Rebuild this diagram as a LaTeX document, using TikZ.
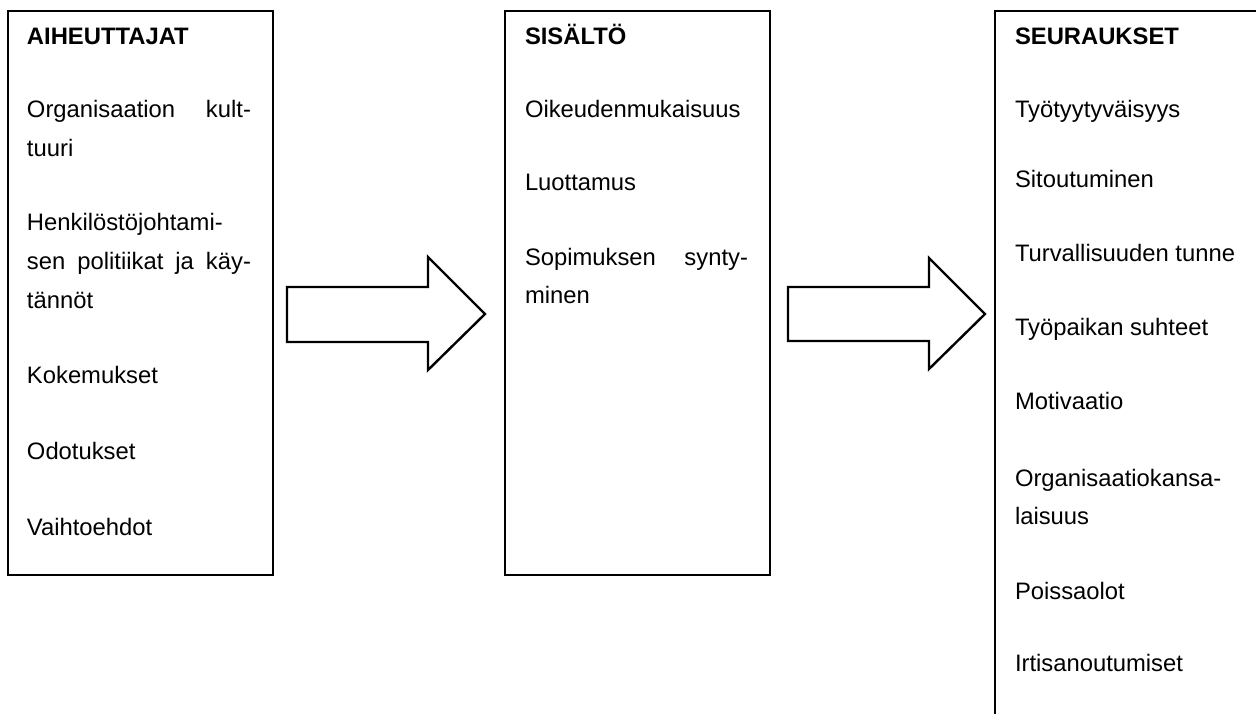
\documentclass[tikz,border=0pt]{standalone}
\usepackage{fontspec}
\setmainfont{Liberation Sans}
\begin{document}
\begin{tikzpicture}[x=1pt,y=-1pt,
  panel/.style={draw=black,line width=2.4pt,fill=none,inner sep=0pt,anchor=north west},
  txt/.style={anchor=base west,inner sep=0pt,outer sep=0pt,font=\fontsize{23.8}{28}\selectfont},
  ttl/.style={txt,font=\fontsize{23.8}{28}\selectfont\bfseries},
  blockarrow/.style={draw=black,line width=2.4pt,fill=white,line join=miter}]
\useasboundingbox (0,0) rectangle (1256,713);
\clip (0,0) rectangle (1256,713);
\fill[white] (0,0) rectangle (1256,713);
% boxes
\node[panel,minimum width=265pt,minimum height=564pt] (b1) at (7,10) {};
\node[panel,minimum width=265pt,minimum height=564pt] (b2) at (504,9.5) {};
\node[panel,minimum width=290pt,minimum height=730pt] (b3) at (994,10) {};
% block arrows
\draw[blockarrow] (287,287) -- (428,287) -- (428,257) -- (485,314) -- (428,370) -- (428,342) -- (287,342) -- cycle;
\draw[blockarrow] (788,287) -- (929,287) -- (929,258) -- (985,314) -- (929,369) -- (929,341) -- (788,341) -- cycle;
% box 1 texts
\node[ttl] (t1) at (27,44) {AIHEUTTAJAT};
\node[txt] (a1) at (27,117) {\hbox to 224pt{Organisaation\hfill kult-}};
\node[txt] (a2) at (27,156) {tuuri};
\node[txt] (a3) at (27,230) {Henkilöstöjohtami-};
\node[txt] (a4) at (27,269) {\hbox to 224pt{sen\hfill politiikat\hfill ja\hfill käy-}};
\node[txt] (a5) at (27,308) {tännöt};
\node[txt] (a6) at (27,383) {Kokemukset};
\node[txt] (a7) at (27,459) {Odotukset};
\node[txt] (a8) at (27,535) {Vaihtoehdot};
% box 2 texts
\node[ttl] (t2) at (525,44) {SISÄLTÖ};
\node[txt] (s1) at (525,117) {Oikeudenmukaisuus};
\node[txt] (s2) at (525,190) {Luottamus};
\node[txt] (s3) at (525,265) {\hbox to 223pt{Sopimuksen\hfill synty-}};
\node[txt] (s4) at (525,303) {minen};
% box 3 texts
\node[ttl] (t3) at (1015,44) {SEURAUKSET};
\node[txt] (c1) at (1015,117) {Työtyytyväisyys};
\node[txt] (c2) at (1015,187) {Sitoutuminen};
\node[txt] (c3) at (1015,261) {Turvallisuuden tunne};
\node[txt] (c4) at (1015,335) {Työpaikan suhteet};
\node[txt] (c5) at (1015,409) {Motivaatio};
\node[txt] (c6) at (1015,486) {Organisaatiokansa-};
\node[txt] (c7) at (1015,524) {laisuus};
\node[txt] (c8) at (1015,599) {Poissaolot};
\node[txt] (c9) at (1015,671) {Irtisanoutumiset};
\end{tikzpicture}
\end{document}
